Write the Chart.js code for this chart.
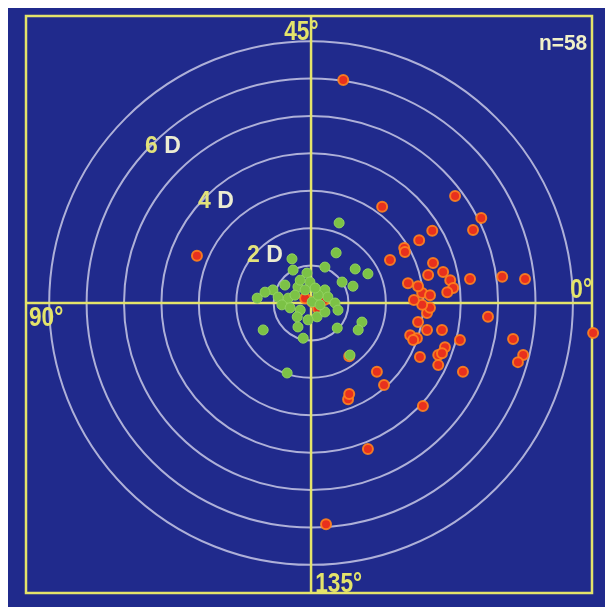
<!DOCTYPE html>
<html lang="en">
<head>
    <meta charset="UTF-8">
    <title>Astigmatism vector plot</title>
    <script src="https://cdn.jsdelivr.net/npm/chart.js"></script>
    <style>
        body { margin: 0; background: #ffffff; }
        canvas { display: block; }
    </style>
</head>
<body>
    <canvas id="myChart" width="607" height="610"></canvas>
</body>
</html>
<script>
    // rings in diopters, and their labels
    const rings = [1, 2, 3, 4, 5, 6, 7]
    const ringLabels = ['2', '4', '6']
    const axisLabels = ['0°', '45°', '90°', '135°']
    const countLabel = 'n=58'

    // red = before, values in D (x, y)
    const redX = [0.86, -3.05, 1.90, 3.85, 4.55, 4.33, 3.24, 2.89, 2.49, 2.11,
        3.26, 3.13, 3.53, 3.72, 3.80, 3.64, 2.59, 2.97, 3.18, 4.25,
        5.11, 5.72, 3.10, 3.18, 2.97, 2.86, 4.73, 2.65, 2.83, 3.10,
        3.50, 3.98, 3.58, 3.40, 2.91, 3.40, 4.06, 5.40, 5.67, 5.53,
        7.54, 1.02, 1.76, 1.95, 0.99, 1.02, 2.99, 1.52, 0.40, 2.51,
        0.03, 0.19, -0.16, 2.75, 2.86, 3.50, 2.73, 0.35]
    const redY = [5.96, 1.26, 2.57, 2.86, 2.27, 1.95, 1.93, 1.68, 1.47, 1.15,
        1.07, 0.75, 0.83, 0.61, 0.40, 0.29, 0.53, 0.27, 0.21, 0.64,
        0.70, 0.64, -0.27, -0.13, -0.05, -0.51, -0.37, -0.86, -0.94, -0.72,
        -0.72, -0.99, -1.18, -1.39, -1.44, -1.66, -1.84, -0.96, -1.39, -1.58,
        -0.80, -1.42, -1.84, -2.19, -2.57, -2.43, -2.75, -3.90, -5.91, 1.36,
        0.03, -0.16, 0.13, 0.08, 0.45, -1.34, -0.99, 0.08]

    // green = after
    const greenX = [0.75, 0.67, -0.51, -0.48, 0.37, 1.18, 1.52, 0.83, 1.12, -0.11,
        -0.03, -0.35, -0.70, -1.02, -1.23, -1.44, 0.37, 0.45, 0.64, -0.88,
        -0.61, -0.43, 0.03, -0.29, -0.37, 0.16, 0.37, 0.72, 0.70, 1.36,
        1.26, -1.28, -0.35, -0.21, 1.04, -0.64, 0.19, -0.16, -0.78, -0.56,
        0.24, -0.08, -0.29, 0.11]
    const greenY = [2.14, 1.34, 1.18, 0.88, 0.96, 0.91, 0.78, 0.56, 0.45, 0.80,
        0.56, 0.43, 0.48, 0.35, 0.29, 0.13, 0.35, 0.16, 0.00, 0.16,
        0.13, 0.21, 0.03, -0.19, -0.37, -0.37, -0.24, -0.19, -0.67, -0.51,
        -0.72, -0.72, -0.64, -0.94, -1.39, -1.87, 0.21, 0.35, -0.05, -0.13,
        -0.05, -0.45, 0.61, 0.40]

    function pontos(xs, ys){
        var lista = []
        for(var i = 0; i < xs.length; i++){
            lista.push({x: xs[i], y: ys[i]})
        }
        return lista
    }

    const azul = '#202a8c'
    const amarelo = '#e4e46a'
    const corAnel = '#aeb0d8'

    // text squeezed horizontally, like the narrow font of the original
    function texto(c, t, px, py, align, sx){
        c.save()
        c.translate(px, py)
        c.scale(sx, 1)
        c.textAlign = align
        c.fillText(t, 0, 0)
        c.restore()
    }

    const fundo = {
        id: 'fundo',
        beforeDraw(chart){
            const c = chart.ctx
            const a = chart.chartArea
            const x = chart.scales.x
            const y = chart.scales.y
            c.save()
            c.fillStyle = '#ffffff'
            c.fillRect(0, 0, chart.width, chart.height)
            c.fillStyle = azul
            c.fillRect(8, 8, chart.width - 10, chart.height - 11)

            const cx = x.getPixelForValue(0)
            const cy = y.getPixelForValue(0)
            c.strokeStyle = corAnel
            c.lineWidth = 2
            for(const r of rings){
                const rp = x.getPixelForValue(r) - cx
                c.beginPath()
                c.arc(cx, cy, rp, 0, Math.PI * 2)
                c.stroke()
            }

            c.strokeStyle = amarelo
            c.lineWidth = 2.5
            c.beginPath()
            c.moveTo(cx, a.top)
            c.lineTo(cx, a.bottom)
            c.moveTo(a.left, cy)
            c.lineTo(a.right, cy)
            c.stroke()
            c.strokeRect(a.left, a.top, a.right - a.left, a.bottom - a.top)
            c.restore()
        },
        afterDraw(chart){
            const c = chart.ctx
            const x = chart.scales.x
            const y = chart.scales.y
            c.save()
            c.textBaseline = 'alphabetic'

            // ring labels (data units, along the upper left diagonal)
            const ringPos = [[-1.71, 1.10], [-3.02, 2.54], [-4.44, 4.01]]
            c.font = 'bold 23px "Liberation Sans", Arial, sans-serif'
            ringLabels.forEach((t, i) => {
                const px = x.getPixelForValue(ringPos[i][0])
                const py = y.getPixelForValue(ringPos[i][1])
                c.fillStyle = '#e2e27a'
                texto(c, t, px, py, 'left', 1)
                const w = c.measureText(t + ' ').width
                c.fillStyle = '#ececd2'
                texto(c, 'D', px + w, py, 'left', 1)
            })

            // axis degree labels
            const axPos = [[6.93, 0.13, 'left'], [0.2, 7.03, 'right'], [-7.54, -0.62, 'left'], [0.11, -7.73, 'left']]
            c.font = 'bold 27px "Liberation Sans", Arial, sans-serif'
            c.fillStyle = amarelo
            axisLabels.forEach((t, i) => {
                texto(c, t, x.getPixelForValue(axPos[i][0]), y.getPixelForValue(axPos[i][1]), axPos[i][2], 0.84)
            })

            c.font = 'bold 22px "Liberation Sans", Arial, sans-serif'
            c.fillStyle = '#f0f0c8'
            texto(c, countLabel, x.getPixelForValue(7.38), y.getPixelForValue(6.77), 'right', 0.95)
            c.restore()
        }
    }

    const ctx = document.getElementById('myChart')

    const grafico = new Chart(ctx, {
        type: 'scatter',
        data: {
            datasets: [{
                label: 'Depois',
                data: pontos(greenX, greenY),
                backgroundColor: '#7cc246',
                borderColor: '#92d460',
                borderWidth: 1,
                pointRadius: 5,
                order: 0,
                clip: false
            },
            {
                label: 'Antes',
                data: pontos(redX, redY),
                backgroundColor: '#e8301e',
                borderColor: 'rgba(255, 130, 30, 0.9)',
                borderWidth: 2,
                pointRadius: 5,
                order: 1,
                clip: false
            }]
        },
        options: {
            responsive: false,
            animation: false,
            layout: {
                padding: {left: 26, right: 15, top: 16, bottom: 17}
            },
            plugins: {
                legend: {display: false},
                tooltip: {enabled: false}
            },
            scales: {
                x: {type: 'linear', min: -7.62, max: 7.51, display: false},
                y: {type: 'linear', min: -7.75, max: 7.67, display: false}
            }
        },
        plugins: [fundo]
    })
</script>
